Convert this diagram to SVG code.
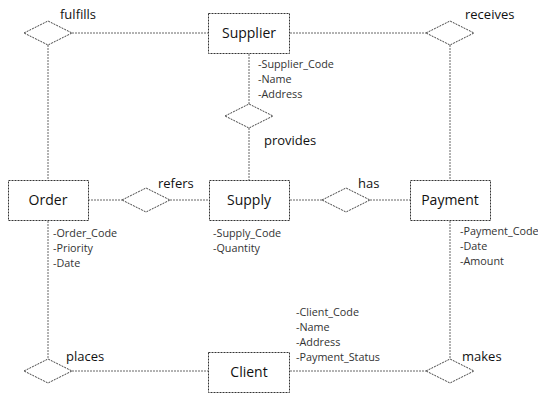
<svg xmlns="http://www.w3.org/2000/svg" width="538" height="393" viewBox="0 0 538 393">
  <style>
    .entity { fill: #ffffff; stroke: #333333; stroke-width: 1; stroke-dasharray: 2 1; }
    .rel { fill: #ffffff; stroke: #444444; stroke-width: 1; stroke-dasharray: 2 1; }
    .link { stroke: #666666; stroke-width: 1; stroke-dasharray: 2 1; fill: none; }
    .name { font-family: "Open Sans", "Noto Sans", sans-serif; font-size: 14px; fill: #111111; text-anchor: middle; }
    .verb { font-family: "Open Sans", "Noto Sans", sans-serif; font-size: 13px; fill: #111111; }
    .attr { font-family: "Open Sans", "Noto Sans", sans-serif; font-size: 10.8px; fill: #333333; }
  </style>
  <defs>
    <polygon id="diamond" points="-24,0 0,-12 24,0 0,12"/>
  </defs>
  <rect width="538" height="393" fill="#ffffff"/>

  <g id="connectors">
    <line class="link" x1="72" y1="33" x2="208" y2="33"/>
    <line class="link" x1="290" y1="33" x2="426" y2="33"/>
    <line class="link" x1="48" y1="45" x2="48" y2="180"/>
    <line class="link" x1="450" y1="45" x2="450" y2="180"/>
    <line class="link" x1="249" y1="54" x2="249" y2="104"/>
    <line class="link" x1="249" y1="128" x2="249" y2="180"/>
    <line class="link" x1="88" y1="200" x2="122" y2="200"/>
    <line class="link" x1="170" y1="200" x2="209" y2="200"/>
    <line class="link" x1="290" y1="200" x2="322" y2="200"/>
    <line class="link" x1="370" y1="200" x2="411" y2="200"/>
    <line class="link" x1="48" y1="221" x2="48" y2="359"/>
    <line class="link" x1="450" y1="221" x2="450" y2="359"/>
    <line class="link" x1="72" y1="371" x2="208" y2="371"/>
    <line class="link" x1="290" y1="371" x2="426" y2="371"/>
  </g>

  <g id="supplier">
    <rect class="entity" x="208.5" y="13.5" width="81" height="40"/>
    <text class="name" x="249" y="38">Supplier</text>
    <text class="attr" x="258" y="68">-Supplier_Code</text>
    <text class="attr" x="258" y="83">-Name</text>
    <text class="attr" x="258" y="98">-Address</text>
  </g>

  <g id="order">
    <rect class="entity" x="8.5" y="180.5" width="80" height="40"/>
    <text class="name" x="48" y="205">Order</text>
    <text class="attr" x="53" y="237">-Order_Code</text>
    <text class="attr" x="53" y="252">-Priority</text>
    <text class="attr" x="53" y="267">-Date</text>
  </g>

  <g id="supply">
    <rect class="entity" x="209.5" y="180.5" width="80" height="40"/>
    <text class="name" x="249" y="205">Supply</text>
    <text class="attr" x="213" y="237">-Supply_Code</text>
    <text class="attr" x="213" y="252">-Quantity</text>
  </g>

  <g id="payment">
    <rect class="entity" x="410.5" y="180.5" width="80" height="40"/>
    <text class="name" x="450" y="205">Payment</text>
    <text class="attr" x="460" y="235">-Payment_Code</text>
    <text class="attr" x="460" y="250">-Date</text>
    <text class="attr" x="460" y="265">-Amount</text>
  </g>

  <g id="client">
    <rect class="entity" x="208.5" y="352.5" width="81" height="40"/>
    <text class="name" x="249" y="377">Client</text>
    <text class="attr" x="296" y="316">-Client_Code</text>
    <text class="attr" x="296" y="331">-Name</text>
    <text class="attr" x="296" y="346">-Address</text>
    <text class="attr" x="296" y="361">-Payment_Status</text>
  </g>

  <g id="fulfills">
    <use href="#diamond" class="rel" x="48" y="33"/>
    <text class="verb" x="60" y="19">fulfills</text>
  </g>

  <g id="receives">
    <use href="#diamond" class="rel" x="450" y="33"/>
    <text class="verb" x="465" y="19">receives</text>
  </g>

  <g id="provides">
    <use href="#diamond" class="rel" x="249" y="116"/>
    <text class="verb" x="264" y="145">provides</text>
  </g>

  <g id="refers">
    <use href="#diamond" class="rel" x="146" y="200"/>
    <text class="verb" x="158" y="188">refers</text>
  </g>

  <g id="has">
    <use href="#diamond" class="rel" x="346" y="200"/>
    <text class="verb" x="358" y="188">has</text>
  </g>

  <g id="places">
    <use href="#diamond" class="rel" x="48" y="371"/>
    <text class="verb" x="66" y="361">places</text>
  </g>

  <g id="makes">
    <use href="#diamond" class="rel" x="450" y="371"/>
    <text class="verb" x="462" y="361">makes</text>
  </g>
</svg>
